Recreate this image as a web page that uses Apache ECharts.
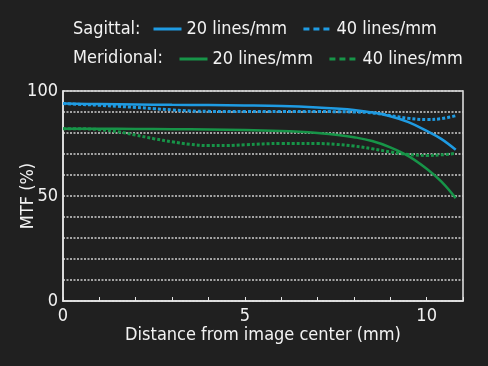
<!DOCTYPE html>
<html><head><meta charset="utf-8">
<script src="https://cdn.jsdelivr.net/npm/echarts@6/dist/echarts.min.js"></script>
<style>html,body{margin:0;padding:0;background:#202020;}#c{width:488px;height:366px;}</style>
</head><body><div id="c"></div>
<script>
const xTickLabels = ['0', '5', '10'];
const yTickLabels = ['0', '50', '100'];
const sagX = [0, 1, 2, 3, 4, 5, 6, 7, 7.5, 8, 8.5, 9, 9.5, 10, 10.4, 10.8];
const sag20 = [94, 93.8, 93.6, 93.4, 93.3, 93.1, 92.8, 92.2, 91.7, 91, 89.8, 88, 85.2, 81, 77.2, 72];
const sag40x = [0, 0.5, 1, 1.5, 2, 2.5, 3, 3.5, 4, 5, 6, 7, 8, 8.5, 9, 9.5, 10, 10.4, 10.8];
const sag40 = [94, 93.6, 93.2, 92.7, 92.2, 91.6, 91, 90.5, 90.3, 90.2, 90.2, 90.2, 90, 89.6, 88.3, 87, 86.4, 86.8, 88.2];
const merX = [0, 1, 2, 3, 4, 5, 6, 6.5, 7, 7.5, 8, 8.5, 9, 9.5, 10, 10.4, 10.8];
const mer20 = [82, 82, 81.9, 81.8, 81.7, 81.4, 81, 80.6, 80, 79.2, 78, 76.2, 73.2, 69, 63, 57, 49];
const mer40x = [0, 0.5, 1, 1.5, 2, 2.5, 3, 3.5, 4, 4.5, 5, 6, 7, 7.5, 8, 8.5, 9, 9.5, 10, 10.4, 10.8];
const mer40 = [82, 82, 81.6, 80.6, 79, 77.3, 75.8, 74.6, 74, 74, 74.4, 75, 75, 74.6, 73.8, 72.5, 71, 69.8, 69.3, 69.6, 70.3];

const BLUE = '#1f9be2', GREEN = '#179448';
const FONT = 'DejaVu Sans Condensed';
const zip = (xs, ys) => xs.map((x, i) => [x, ys[i]]);

const chart = echarts.init(document.getElementById('c'));
const legendText = {color: '#f2f2f2', fontSize: 18, fontFamily: FONT};
chart.setOption({
  backgroundColor: '#202020',
  animation: false,
  graphic: [
    {type: 'text', left: 73, top: 20.5, style: {text: 'Sagittal:', fill: '#f2f2f2', fontSize: 18, fontFamily: FONT}},
    {type: 'text', left: 73, top: 49.5, style: {text: 'Meridional:', fill: '#f2f2f2', fontSize: 18, fontFamily: FONT}}
  ],
  legend: [
    {left: 152, top: 20, padding: 0, itemWidth: 28, itemHeight: 14, itemGap: 15, textStyle: legendText,
     itemStyle: {opacity: 0},
     formatter: n => n.replace(/^\S+ /, ''),
     data: [{name: 'Sagittal 20 lines/mm', lineStyle: {width: 3}}, {name: 'Sagittal 40 lines/mm', lineStyle: {type: [6, 4], width: 3}}]},
    {left: 178, top: 50, padding: 0, itemWidth: 28, itemHeight: 14, itemGap: 15, textStyle: legendText,
     itemStyle: {opacity: 0},
     formatter: n => n.replace(/^\S+ /, ''),
     data: [{name: 'Meridional 20 lines/mm', lineStyle: {width: 3}}, {name: 'Meridional 40 lines/mm', lineStyle: {type: [6, 4], width: 3}}]}
  ],
  grid: {left: 63, top: 91, right: 25, bottom: 65, show: true, borderColor: '#e6e6e6', borderWidth: 1.5,
    containLabel: false, outerBoundsMode: 'none'},
  xAxis: {
    type: 'value', min: 0, max: 11, interval: 1,
    name: 'Distance from image center (mm)', nameLocation: 'middle', nameGap: 25, nameMoveOverlap: false,
    nameTextStyle: {color: '#f2f2f2', fontSize: 18, fontFamily: FONT},
    axisLine: {lineStyle: {color: '#e6e6e6', width: 1.5}},
    axisTick: {show: true, inside: true, length: 4, lineStyle: {color: '#e6e6e6'}},
    axisLabel: {color: '#f2f2f2', fontSize: 18, fontFamily: FONT, margin: 6,
      formatter: v => xTickLabels.includes(String(v)) ? String(v) : ''},
    splitLine: {show: false}
  },
  yAxis: {
    type: 'value', min: 0, max: 100, interval: 10,
    name: 'MTF (%)', nameLocation: 'middle', nameGap: 26, nameMoveOverlap: false,
    nameTextStyle: {color: '#f2f2f2', fontSize: 18, fontFamily: FONT},
    axisLine: {lineStyle: {color: '#e6e6e6', width: 1.5}},
    axisTick: {show: false},
    axisLabel: {color: '#f2f2f2', fontSize: 18, fontFamily: FONT, margin: 5,
      formatter: v => yTickLabels.includes(String(v)) ? String(v) : ''},
    splitLine: {show: true, lineStyle: {color: '#d0d0d0', type: [2, 1.5], width: 1.5}}
  },
  series: [
    {name: 'Sagittal 20 lines/mm', type: 'line', data: zip(sagX, sag20), smooth: 0.4, symbol: 'none', color: BLUE, lineStyle: {width: 2.5, color: BLUE}, z: 4},
    {name: 'Sagittal 40 lines/mm', type: 'line', data: zip(sag40x, sag40), smooth: 0.4, symbol: 'none', color: BLUE, lineStyle: {width: 3, color: BLUE, type: [3, 2]}, z: 3},
    {name: 'Meridional 20 lines/mm', type: 'line', data: zip(merX, mer20), smooth: 0.4, symbol: 'none', color: GREEN, lineStyle: {width: 2.5, color: GREEN}, z: 4},
    {name: 'Meridional 40 lines/mm', type: 'line', data: zip(mer40x, mer40), smooth: 0.4, symbol: 'none', color: GREEN, lineStyle: {width: 3, color: GREEN, type: [3, 2]}, z: 3}
  ]
});
</script></body></html>
